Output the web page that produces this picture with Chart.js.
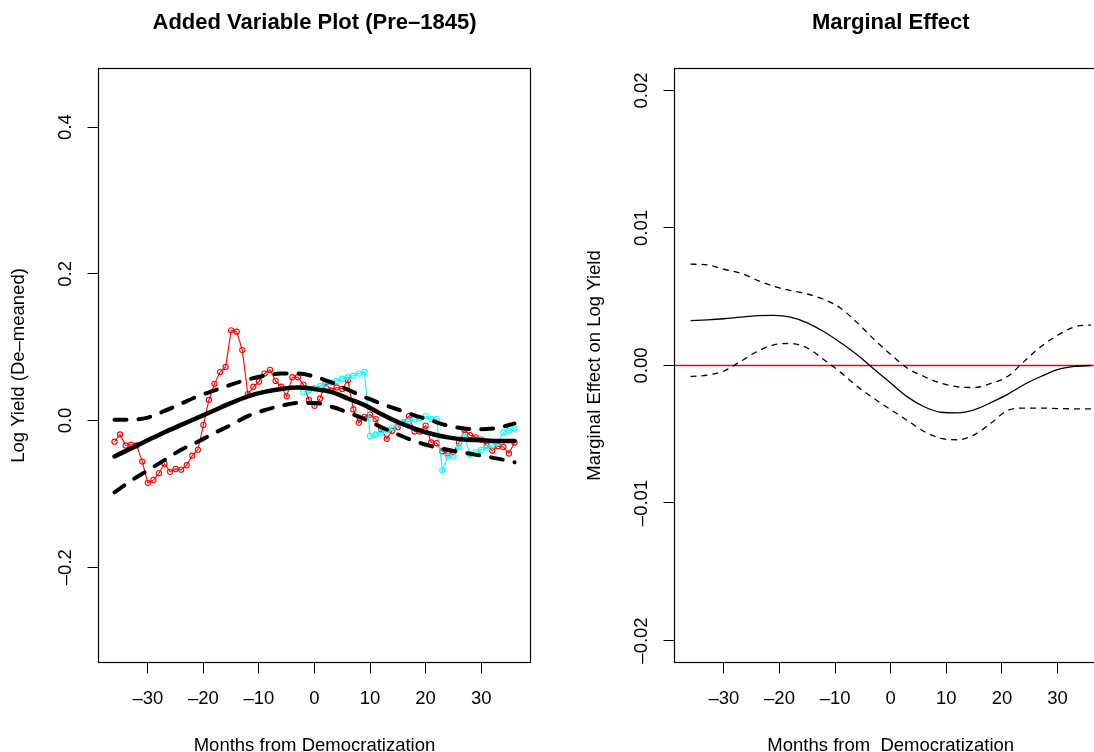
<!DOCTYPE html>
<html>
<head>
<meta charset="utf-8">
<script src="https://cdn.jsdelivr.net/npm/chart.js@4"></script>
<style>
  html, body { margin: 0; padding: 0; background: #fff; overflow: hidden; }
  #wrap { position: relative; width: 1094px; height: 752px; overflow: hidden; }
  canvas { position: absolute; top: 0; }
  #left-chart { left: 0; }
  #right-chart { left: 547px; }
</style>
</head>
<body>
<div id="wrap">
  <canvas id="left-chart" width="547" height="752"></canvas>
  <canvas id="right-chart" width="580" height="752"></canvas>
</div>
<script>
// ── Data: left panel (added variable plot) ──
const RED_MONTHS = [-36, -35, -34, -33, -32, -31, -30, -29, -28, -27, -26, -25, -24, -23, -22, -21, -20, -19, -18, -17,
  -16, -15, -14, -13, -12, -11, -10, -9, -8, -7, -6, -5, -4, -3, -2, -1, 0, 1, 2, 3, 4, 5, 6, 7, 8, 9, 10, 11, 12, 13,
  14, 15, 16, 17, 18, 19, 20, 21, 22, 23, 24, 25, 26, 27, 28, 29, 30, 31, 32, 33, 34, 35, 36];
const RED_YIELD = [-0.029, -0.019, -0.034, -0.033, -0.034, -0.056, -0.085, -0.081, -0.072, -0.059, -0.070, -0.066, -0.067, -0.061, -0.048, -0.040, -0.006, 0.028, 0.050, 0.066,
  0.073, 0.123, 0.121, 0.096, 0.036, 0.046, 0.053, 0.064, 0.069, 0.054, 0.046, 0.033, 0.059, 0.059, 0.049, 0.028, 0.020, 0.030, 0.051, 0.041,
  0.045, 0.043, 0.055, 0.015, -0.003, 0.005, 0.008, 0.002, -0.012, -0.025, -0.014, -0.009, -0.003, 0.006, -0.015, -0.015, -0.007, -0.030, -0.031, -0.042,
  -0.045, -0.043, -0.030, -0.013, -0.020, -0.023, -0.026, -0.034, -0.041, -0.035, -0.036, -0.045, -0.030];

const CYAN_MONTHS = [-2, -1, 0, 1, 2, 3, 4, 5, 6, 7, 8, 9, 10, 11, 12, 13, 14, 15, 16, 17,
  18, 19, 20, 21, 22, 23, 24, 25, 26, 27, 28, 29, 30, 31, 32, 33, 34, 35, 36];
const CYAN_YIELD = [0.039, 0.041, 0.044, 0.047, 0.050, 0.052, 0.054, 0.057, 0.059, 0.061, 0.064, 0.066, -0.021, -0.019, -0.016, -0.013, -0.010, -0.006, -0.003, -0.001,
  0.001, 0.003, 0.006, 0.002, 0.002, -0.068, -0.049, -0.048, -0.036, -0.022, -0.046, -0.043, -0.040, -0.037, -0.034, -0.031, -0.016, -0.014, -0.011];

const FIT_MONTHS = [-36, -33, -30, -27, -24, -21, -18, -15, -12, -9, -6, -3, 0, 3, 6, 9, 12, 15, 18, 21, 24, 27, 30, 33, 36];
const FIT_MEAN  = [-0.049, -0.038, -0.027, -0.016, -0.006, 0.004, 0.014, 0.024, 0.033, 0.039, 0.043, 0.045, 0.043, 0.039, 0.030, 0.021, 0.009, -0.002, -0.011, -0.018, -0.023, -0.026, -0.027, -0.028, -0.028];
const FIT_UPPER = [0.001, 0.001, 0.004, 0.013, 0.023, 0.033, 0.041, 0.049, 0.056, 0.061, 0.064, 0.064, 0.060, 0.052, 0.042, 0.032, 0.023, 0.015, 0.007, 0.000, -0.007, -0.011, -0.012, -0.010, -0.004];
const FIT_LOWER = [-0.098, -0.082, -0.068, -0.054, -0.040, -0.029, -0.017, -0.006, 0.006, 0.014, 0.020, 0.024, 0.024, 0.019, 0.011, 0.002, -0.009, -0.019, -0.028, -0.035, -0.040, -0.044, -0.048, -0.052, -0.057];

// ── Data: right panel (marginal effect) ──
const ME_MONTHS = [-36, -33, -30, -27, -24, -21, -18, -15, -12, -9, -6, -3, 0, 3, 6, 9, 12, 15, 18, 21, 24, 27, 30, 33, 36];
const ME_MEAN  = [0.00327, 0.00332, 0.00340, 0.00352, 0.00362, 0.00365, 0.00352, 0.00310, 0.00245, 0.00165, 0.00076, -0.00027, -0.00128, -0.00228, -0.00300, -0.00340, -0.00344, -0.00322, -0.00270, -0.00210, -0.00138, -0.00080, -0.00030, -0.00007, 0.00000];
const ME_UPPER = [0.00737, 0.00732, 0.00700, 0.00672, 0.00620, 0.00575, 0.00545, 0.00520, 0.00480, 0.00417, 0.00310, 0.00190, 0.00080, -0.00020, -0.00080, -0.00128, -0.00155, -0.00160, -0.00130, -0.00080, 0.00030, 0.00138, 0.00220, 0.00280, 0.00296];
const ME_LOWER = [-0.00080, -0.00070, -0.00040, 0.00030, 0.00102, 0.00150, 0.00160, 0.00127, 0.00042, -0.00050, -0.00153, -0.00240, -0.00322, -0.00400, -0.00480, -0.00530, -0.00540, -0.00504, -0.00420, -0.00327, -0.00310, -0.00310, -0.00313, -0.00315, -0.00315];
const ZERO_LINE = [0, 0];

// ── Axes / ticks ──
const X_RANGE = [-38.88, 38.88];
const X_TICKS = [-30, -20, -10, 0, 10, 20, 30];
const LEFT_Y_RANGE = [-0.33, 0.48];
const LEFT_Y_TICKS = [-0.2, 0.0, 0.2, 0.4];
const RIGHT_Y_RANGE = [-0.0216, 0.0216];
const RIGHT_Y_TICKS = [-0.02, -0.01, 0.0, 0.01, 0.02];

const FONT = "'Liberation Sans', Arial, Helvetica, sans-serif";
const TICK_SIZE = 18.5;
const TITLE_SIZE = 22;

const dash = s => s.replace("-", "\u2013");
const pts = (xs, ys) => xs.map((x, i) => ({ x, y: ys[i] }));

// ── R-style frame + text (titles, rotated y tick labels) ──
const rFrame = {
  id: "rFrame",
  afterDraw(chart, args, o) {
    const { ctx, chartArea: a } = chart;
    const ys = chart.scales.y;
    ctx.save();
    ctx.strokeStyle = "#000";
    ctx.lineWidth = 1.2;
    ctx.strokeRect(a.left, a.top, a.right - a.left, a.bottom - a.top);

    const cx = (a.left + a.right) / 2;
    ctx.fillStyle = "#000";
    ctx.textAlign = "center";
    ctx.textBaseline = "middle";
    ctx.font = `bold ${TITLE_SIZE}px ${FONT}`;
    ctx.fillText(o.title, cx, 23);
    ctx.font = `${TICK_SIZE}px ${FONT}`;
    ctx.fillText(o.xTitle, cx, 746);

    const cy = (a.top + a.bottom) / 2;
    ctx.save();
    ctx.translate(a.left - 79.5, cy);
    ctx.rotate(-Math.PI / 2);
    ctx.fillText(o.yTitle, 0, 0);
    ctx.restore();

    ys.ticks.forEach(t => {
      ctx.save();
      ctx.translate(a.left - 33, ys.getPixelForValue(t.value));
      ctx.rotate(-Math.PI / 2);
      ctx.fillText(dash(t.value.toFixed(o.digits)), 0, 0);
      ctx.restore();
    });
    ctx.restore();
  },
};

function makeScales(yRange, yTicks, yWidth) {
  const tickGrid = { display: true, drawOnChartArea: false, drawTicks: true, tickLength: 11, tickColor: "#000", tickWidth: 1 };
  return {
    x: {
      type: "linear", min: X_RANGE[0], max: X_RANGE[1],
      afterBuildTicks: s => { s.ticks = X_TICKS.map(v => ({ value: v })); },
      afterFit: s => { s.height = 752 - 662.5; },
      grid: tickGrid,
      border: { display: false },
      ticks: {
        color: "#000", padding: 14, maxRotation: 0, autoSkip: false,
        font: { family: FONT, size: TICK_SIZE },
        callback: v => dash(String(v)),
      },
    },
    y: {
      type: "linear", min: yRange[0], max: yRange[1],
      afterBuildTicks: s => { s.ticks = yTicks.map(v => ({ value: v })); },
      afterFit: s => { s.width = yWidth; },
      grid: tickGrid,
      border: { display: false },
      ticks: { display: false },
    },
  };
}

const baseOptions = {
  responsive: false,
  devicePixelRatio: 1,
  animation: false,
  events: [],
  plugins: { legend: { display: false }, tooltip: { enabled: false } },
};

// ── Left chart ──
new Chart(document.getElementById("left-chart"), {
  type: "scatter",
  data: {
    datasets: [
      { data: pts(FIT_MONTHS, FIT_MEAN), showLine: true, borderColor: "#000", borderWidth: 4.5, pointRadius: 0, cubicInterpolationMode: "monotone", borderCapStyle: "round", order: 0 },
      { data: pts(FIT_MONTHS, FIT_UPPER), showLine: true, borderColor: "#000", borderWidth: 4, borderDash: [12, 12], borderCapStyle: "round", pointRadius: 0, cubicInterpolationMode: "monotone", order: 0 },
      { data: pts(FIT_MONTHS, FIT_LOWER), showLine: true, borderColor: "#000", borderWidth: 4, borderDash: [12, 12], borderCapStyle: "round", pointRadius: 0, cubicInterpolationMode: "monotone", order: 0 },
      { data: pts(CYAN_MONTHS, CYAN_YIELD), showLine: true, borderColor: "#00ffff", borderWidth: 1.1, pointRadius: 2.6, pointBorderColor: "#00ffff", pointBackgroundColor: "rgba(0,0,0,0)", pointBorderWidth: 1.1, order: 1 },
      { data: pts(RED_MONTHS, RED_YIELD), showLine: true, borderColor: "#ff0000", borderWidth: 1.1, pointRadius: 2.6, pointBorderColor: "#ff0000", pointBackgroundColor: "rgba(0,0,0,0)", pointBorderWidth: 1.1, order: 2 },
    ],
  },
  options: {
    ...baseOptions,
    layout: { padding: { top: 68.5, right: 547 - 530.5, left: 0, bottom: 0 } },
    scales: makeScales(LEFT_Y_RANGE, LEFT_Y_TICKS, 98.5),
    plugins: {
      ...baseOptions.plugins,
      rFrame: { title: "Added Variable Plot (Pre\u20131845)", xTitle: "Months from Democratization", yTitle: "Log Yield (De\u2013meaned)", digits: 1 },
    },
  },
  plugins: [rFrame],
});

// ── Right chart ──
new Chart(document.getElementById("right-chart"), {
  type: "scatter",
  data: {
    datasets: [
      { data: pts(ME_MONTHS, ME_MEAN), showLine: true, borderColor: "#000", borderWidth: 1.3, pointRadius: 0, cubicInterpolationMode: "monotone", order: 0 },
      { data: pts(ME_MONTHS, ME_UPPER), showLine: true, borderColor: "#000", borderWidth: 1.3, borderDash: [6, 5], pointRadius: 0, cubicInterpolationMode: "monotone", order: 0 },
      { data: pts(ME_MONTHS, ME_LOWER), showLine: true, borderColor: "#000", borderWidth: 1.3, borderDash: [6, 5], pointRadius: 0, cubicInterpolationMode: "monotone", order: 0 },
      { data: pts(X_RANGE, ZERO_LINE), showLine: true, borderColor: "#ff0000", borderWidth: 1.3, pointRadius: 0, order: 1 },
    ],
  },
  options: {
    ...baseOptions,
    layout: { padding: { top: 68.5, right: 580 - 560, left: 0, bottom: 0 } },
    scales: makeScales(RIGHT_Y_RANGE, RIGHT_Y_TICKS, 127.5),
    plugins: {
      ...baseOptions.plugins,
      rFrame: { title: "Marginal Effect", xTitle: "Months from  Democratization", yTitle: "Marginal Effect on Log Yield", digits: 2 },
    },
  },
  plugins: [rFrame],
});
</script>
</body>
</html>
